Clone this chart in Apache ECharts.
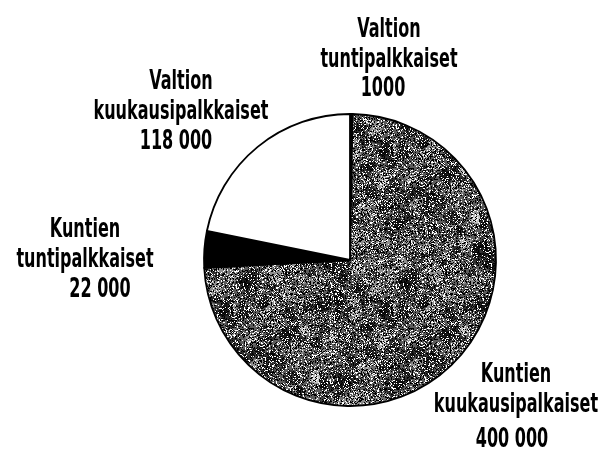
<!DOCTYPE html>
<html>
<head>
<meta charset="utf-8">
<script src="https://cdn.jsdelivr.net/npm/echarts@6/dist/echarts.min.js"></script>
<style>
  html, body { margin: 0; padding: 0; background: #fff; }
  #chart { width: 609px; height: 449px; }
</style>
</head>
<body>
<div id="chart"></div>
<script>
// data
const names = [
  "Valtion\ntuntipalkkaiset",
  "Kuntien\nkuukausipalkaiset",
  "Kuntien\ntuntipalkkaiset",
  "Valtion\nkuukausipalkkaiset"
];
const values = [1000, 400000, 22000, 118000];
const valueText = ["1000", "400 000", "22 000", "118 000"];

// label placement (layout only)
const namePos = [[389, 45], [516, 390], [85, 245], [181, 97]];
const valuePos = [[383, 89], [512, 440], [100, 290], [176, 142]];

// mottled grey texture for the big slice
function makeTexture() {
  const c = document.createElement("canvas");
  c.width = 160; c.height = 160;
  const ctx = c.getContext("2d");
  ctx.fillStyle = "#5c5c5c";
  ctx.fillRect(0, 0, 160, 160);
  let s = 4321;
  const rnd = function () { s = (s * 1103515245 + 12345) & 0x7fffffff; return s / 0x7fffffff; };
  for (let i = 0; i < 220; i++) {
    ctx.fillStyle = rnd() < 0.6 ? "rgba(0,0,0,0.5)" : "rgba(255,255,255,0.3)";
    ctx.beginPath();
    ctx.arc(rnd() * 160, rnd() * 160, 2 + rnd() * 6, 0, Math.PI * 2);
    ctx.fill();
  }
  for (let y = 0; y < 160; y++) {
    for (let x = 0; x < 160; x++) {
      const r = rnd();
      if (r < 0.28) { ctx.fillStyle = "#000"; ctx.fillRect(x, y, 1, 1); }
      else if (r > 0.84) { ctx.fillStyle = "#fff"; ctx.fillRect(x, y, 1, 1); }
    }
  }
  return c;
}

const colors = ["#000", { image: makeTexture(), repeat: "repeat" }, "#000", "#fff"];

const labelFont = "bold 27px 'DejaVu Sans Condensed', 'Liberation Sans', sans-serif";

let texts = [];
names.forEach(function (n, i) {
  texts.push({
    type: "text", x: namePos[i][0], y: namePos[i][1], scaleX: 0.66,
    style: { text: n, font: labelFont, fill: "#000", lineHeight: 30, align: "center", verticalAlign: "middle" }
  });
  texts.push({
    type: "text", x: valuePos[i][0], y: valuePos[i][1], scaleX: 0.66,
    style: { text: valueText[i], font: labelFont, fill: "#000", align: "center", verticalAlign: "middle" }
  });
});

let chart = echarts.init(document.getElementById("chart"));
chart.setOption({
  animation: false,
  graphic: texts,
  series: [
    {
      type: "pie",
      center: [350, 260],
      radius: 146,
      startAngle: 90,
      clockwise: true,
      minAngle: 1,
      itemStyle: {
        borderColor: "#000",
        borderWidth: 1.8
      },
      label: { show: false },
      labelLine: { show: false },
      data: values.map(function (v, i) {
        return { name: names[i], value: v, itemStyle: { color: colors[i] } };
      })
    }
  ]
});
</script>
</body>
</html>
